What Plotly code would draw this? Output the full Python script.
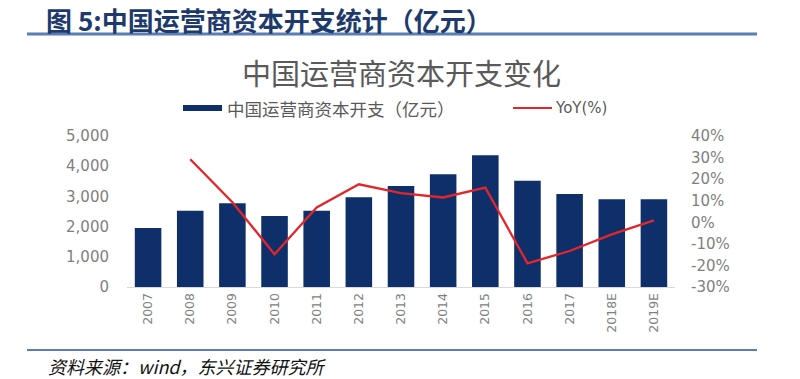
import plotly.graph_objects as go

# ---- data ----
years = ["2007", "2008", "2009", "2010", "2011", "2012", "2013",
         "2014", "2015", "2016", "2017", "2018E", "2019E"]
capex = [1950, 2525, 2770, 2350, 2525, 2970, 3345, 3735, 4365, 3520, 3080, 2905, 2905]
yoy_pct = [None, 29.2, 9.3, -14.8, 6.9, 17.6, 13.5, 11.5, 16.1, -19.0, -13.3, -5.6, 0.9]

left_ticks = [0, 1000, 2000, 3000, 4000, 5000]
left_labels = ["0", "1,000", "2,000", "3,000", "4,000", "5,000"]
right_ticks = [-30, -20, -10, 0, 10, 20, 30, 40]
right_labels = ["-30%", "-20%", "-10%", "0%", "10%", "20%", "30%", "40%"]

header = "图 5:中国运营商资本开支统计（亿元）"
chart_title = "中国运营商资本开支变化"
bar_name = "中国运营商资本开支（亿元）"
line_name = "YoY(%)"
source = "资料来源：wind，东兴证券研究所"

# ---- style ----
W, H = 800, 379
BAR = "#0f2f6b"
RED = "#e4262a"
GRAY = "#7f7f7f"
CJK = "Noto Sans CJK SC"
NUM = "DejaVu Sans"

def px(x):
    return x / W

def py(y):
    return 1 - y / H

fig = go.Figure()
fig.add_trace(go.Bar(x=years, y=capex, name=bar_name, marker_color=BAR,
                     marker_line_width=0, yaxis="y"))
fig.add_trace(go.Scatter(x=years, y=yoy_pct, name=line_name, mode="lines",
                         line=dict(color=RED, width=2.3), yaxis="y2",
                         connectgaps=False))

fig.update_layout(
    width=W, height=H,
    margin=dict(l=0, r=0, t=0, b=0),
    paper_bgcolor="white", plot_bgcolor="white",
    showlegend=False,
    bargap=0.37,
    xaxis=dict(domain=[px(127), px(675)], type="category",
               tickangle=-90, tickfont=dict(family=NUM, size=12.5, color=GRAY),
               showgrid=False, showline=True, linecolor="#d9d9d9", linewidth=1,
               ticks="", automargin=False, range=[-0.5, 12.5]),
    yaxis=dict(domain=[py(287), py(136)], range=[0, 5000],
               tickvals=left_ticks, ticktext=left_labels,
               tickfont=dict(family=NUM, size=15, color=GRAY),
               showgrid=False, zeroline=False, showline=False, ticks="",
               automargin=False, ticklabelstandoff=17),
    yaxis2=dict(domain=[py(287), py(136)], range=[-30, 40], overlaying="y",
                side="right", anchor="x",
                tickvals=right_ticks, ticktext=right_labels,
                tickfont=dict(family=NUM, size=15, color=GRAY),
                showgrid=False, zeroline=False, showline=False, ticks="",
                automargin=False, ticklabelstandoff=15),
)

anns = []
anns.append(dict(text="<b>" + header + "</b>", x=px(44), y=py(20), xref="paper", yref="paper",
                 xanchor="left", yanchor="middle", showarrow=False,
                 font=dict(family=CJK, size=26, color="#1e3a6d")))
anns.append(dict(text=chart_title, x=px(401), y=py(72), xref="paper", yref="paper",
                 xanchor="center", yanchor="middle", showarrow=False,
                 font=dict(family=CJK, size=29, color="#595959")))
anns.append(dict(text=bar_name, x=px(225), y=py(108), xref="paper", yref="paper",
                 xanchor="left", yanchor="middle", showarrow=False,
                 font=dict(family=CJK, size=17.5, color="#595959")))
anns.append(dict(text=line_name, x=px(553), y=py(108), xref="paper", yref="paper",
                 xanchor="left", yanchor="middle", showarrow=False,
                 font=dict(family=NUM, size=15, color="#595959")))
anns.append(dict(text="<i>" + source + "</i>", x=px(46), y=py(366), xref="paper", yref="paper",
                 xanchor="left", yanchor="middle", showarrow=False,
                 font=dict(family=CJK, size=18, color="#111111")))

shapes = []
shapes.append(dict(type="line", xref="paper", yref="paper", x0=px(27), x1=px(757),
                   y0=py(34), y1=py(34), line=dict(color="#5a7db3", width=3)))
shapes.append(dict(type="line", xref="paper", yref="paper", x0=px(27), x1=px(757),
                   y0=py(350), y1=py(350), line=dict(color="#5a7db3", width=2)))
shapes.append(dict(type="rect", xref="paper", yref="paper", x0=px(183), x1=px(222),
                   y0=py(111), y1=py(105), fillcolor=BAR, line=dict(width=0)))
shapes.append(dict(type="line", xref="paper", yref="paper", x0=px(513), x1=px(552),
                   y0=py(108), y1=py(108), line=dict(color=RED, width=2)))

fig.update_layout(annotations=anns, shapes=shapes)
fig.write_html("out.html", config={"displayModeBar": False},
               post_script="document.body.style.margin='0px';document.body.style.overflow='hidden';")
